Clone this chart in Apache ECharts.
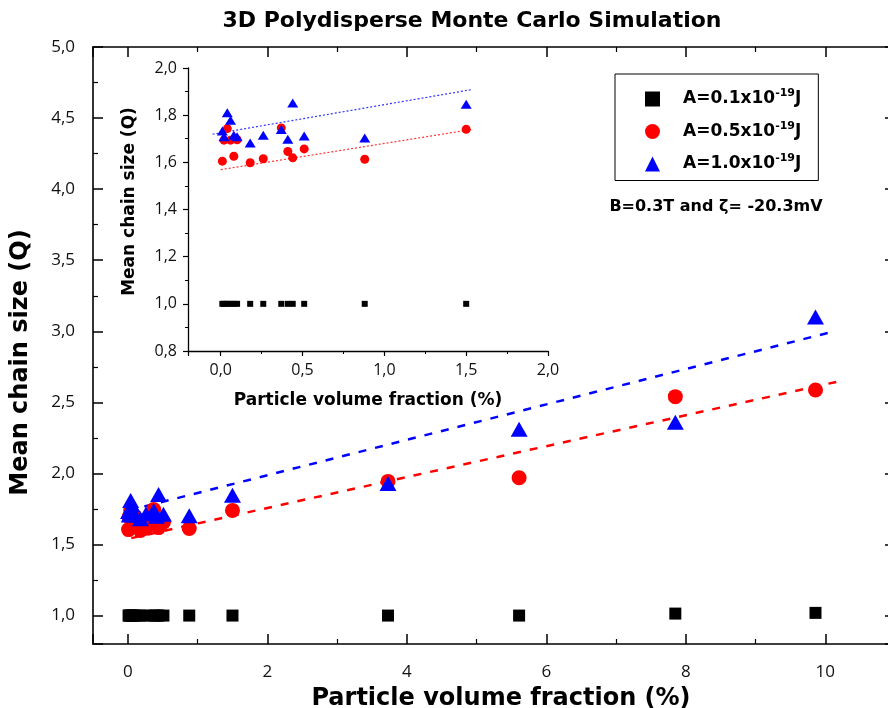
<!DOCTYPE html>
<html>
<head>
<meta charset="utf-8">
<script src="https://cdn.jsdelivr.net/npm/echarts@6/dist/echarts.min.js"></script>
<style>html,body{margin:0;padding:0;background:#fff}#c{width:888px;height:708px}</style>
</head>
<body>
<div id="c"></div>
<script>
// ---- data ----
const volFrac = [0.01, 0.02, 0.04, 0.06, 0.08, 0.10, 0.18, 0.26, 0.37, 0.41, 0.44, 0.51, 0.88, 1.50, 3.73, 5.61, 7.85, 9.86];
const qA01 = [1.0, 1.0, 1.0, 1.0, 1.0, 1.0, 1.0, 1.0, 1.0, 1.0, 1.0, 1.0, 1.0, 1.0, 1.0, 1.0, 1.014, 1.019];
const qA05 = [1.605, 1.694, 1.743, 1.694, 1.626, 1.696, 1.598, 1.615, 1.746, 1.646, 1.619, 1.657, 1.613, 1.74, 1.944, 1.97, 2.54, 2.587];
const qA10 = [1.733, 1.708, 1.81, 1.778, 1.715, 1.708, 1.682, 1.715, 1.739, 1.698, 1.852, 1.712, 1.703, 1.846, 1.93, 2.31, 2.36, 3.10];
const seriesNames = ['A=0.1x10^-19J', 'A=0.5x10^-19J', 'A=1.0x10^-19J'];
// linear fits (end points)
const fitMainA05 = [[0.05, 1.545], [10.26, 2.655]];
const fitMainA10 = [[0.0, 1.738], [10.13, 3.0]];
const fitInsetA05 = [[0.0, 1.569], [1.53, 1.739]];
const fitInsetA10 = [[-0.05, 1.719], [1.53, 1.908]];
const insetMaxX = 2.0;
// ---- build ----
const pairs = (ys, filt) => volFrac.map((x, i) => [x, ys[i]]).filter(p => !filt || p[0] <= insetMaxX);
const FONT = 'Open Sans';
const BFONT = 'DejaVu Sans';
const comma1 = v => v.toFixed(1).replace('.', ',');

const chart = echarts.init(document.getElementById('c'), null, {renderer: 'canvas'});
const axisLineStyle = {color: '#000', width: 1.6};
const lblMain = {color: '#111', fontFamily: FONT, fontSize: 17};
const lblInset = {color: '#111', fontFamily: FONT, fontSize: 16};
const nameMain = {fontFamily: BFONT, fontWeight: 'bold', fontSize: 24, color: '#000'};
const nameInset = {fontFamily: BFONT, fontWeight: 'bold', fontSize: 17, color: '#000'};
const tickMain = {inside: true, length: 10, lineStyle: {color: '#000', width: 1.5}};
const minorMain = {show: true, splitNumber: 2, length: 5, lineStyle: {color: '#000', width: 1.2}};
const tickInset = {inside: false, length: 5, lineStyle: {color: '#000', width: 1.2}};
const minorInset = {show: true, splitNumber: 2, length: 3, lineStyle: {color: '#000', width: 1}};

chart.setOption({
  animation: false,
  backgroundColor: '#fff',
  graphic: [
    {type: 'text', x: 472, y: 21, style: {text: '3D Polydisperse Monte Carlo Simulation', font: 'bold 22px "DejaVu Sans"', fill: '#000', textAlign: 'center', textVerticalAlign: 'middle'}},
    {type: 'text', x: 716, y: 207, style: {text: 'B=0.3T and ζ= -20.3mV', font: 'bold 16px "DejaVu Sans"', fill: '#000', textAlign: 'center', textVerticalAlign: 'middle'}}
  ],
  legend: {
    orient: 'vertical', left: 615, top: 74,
    padding: [14, 17, 8, 30], itemGap: 13,
    borderColor: '#000', borderWidth: 1,
    itemWidth: 15, itemHeight: 15,
    data: [
      {name: seriesNames[0], icon: 'rect'},
      {name: seriesNames[1], icon: 'circle'},
      {name: seriesNames[2], icon: 'triangle'}
    ],
    formatter: n => {
      const p = n.split('^-19');
      return '{b|' + p[0] + '}{s|-19}{b|' + p[1] + '}';
    },
    textStyle: {
      padding: [0, 0, 0, 18],
      rich: {
        b: {fontFamily: BFONT, fontWeight: 'bold', fontSize: 17, color: '#000', lineHeight: 22},
        s: {fontFamily: BFONT, fontWeight: 'bold', fontSize: 11, color: '#000', verticalAlign: 'top'}
      }
    }
  },
  grid: [
    {left: 93, top: 47, width: 802, height: 597, outerBoundsMode: 'none', containLabel: false},
    {left: 188, top: 68, width: 360, height: 283, outerBoundsMode: 'none', containLabel: false}
  ],
  xAxis: [
    {type: 'value', gridIndex: 0, min: -0.5, max: 11, position: 'bottom',
     axisLine: {onZero: false, lineStyle: axisLineStyle}, splitLine: {show: false},
     axisTick: tickMain, minorTick: minorMain,
     axisLabel: Object.assign({margin: 20, showMinLabel: false, showMaxLabel: false, formatter: v => String(v)}, lblMain),
     name: 'Particle volume fraction (%)', nameLocation: 'middle', nameGap: 43,
     nameTextStyle: Object.assign({padding: [0, 0, 0, 14]}, nameMain)},
    {type: 'value', gridIndex: 0, min: -0.5, max: 11, position: 'top',
     axisLine: {onZero: false, lineStyle: axisLineStyle}, splitLine: {show: false},
     axisTick: tickMain, minorTick: minorMain, axisLabel: {show: false}},
    {type: 'value', gridIndex: 1, min: -0.2, max: 2.0,
     axisLine: {onZero: false, lineStyle: {color: '#000', width: 1.3}}, splitLine: {show: false},
     axisTick: tickInset, minorTick: minorInset,
     axisLabel: Object.assign({margin: 11, showMinLabel: false, formatter: comma1}, lblInset),
     name: 'Particle volume fraction (%)', nameLocation: 'middle', nameGap: 41, nameTextStyle: nameInset}
  ],
  yAxis: [
    {type: 'value', gridIndex: 0, min: 0.8, max: 5.0, splitNumber: 8, position: 'left',
     axisLine: {onZero: false, lineStyle: axisLineStyle}, splitLine: {show: false},
     axisTick: tickMain, minorTick: minorMain,
     axisLabel: Object.assign({margin: 18, showMinLabel: false, formatter: comma1}, lblMain),
     name: 'Mean chain size (Q)', nameLocation: 'middle', nameGap: 60, nameRotate: 90,
     nameTextStyle: Object.assign({padding: [0, 34, 0, 0]}, nameMain)},
    {type: 'value', gridIndex: 0, min: 0.8, max: 5.0, splitNumber: 8, position: 'right',
     axisLine: {onZero: false, lineStyle: axisLineStyle}, splitLine: {show: false},
     axisTick: tickMain, minorTick: minorMain, axisLabel: {show: false}},
    {type: 'value', gridIndex: 1, min: 0.8, max: 2.0, interval: 0.2,
     axisLine: {onZero: false, lineStyle: {color: '#000', width: 1.3}}, splitLine: {show: false},
     axisTick: tickInset, minorTick: minorInset,
     axisLabel: Object.assign({margin: 11, formatter: comma1}, lblInset),
     name: 'Mean chain size (Q)', nameLocation: 'middle', nameGap: 50, nameRotate: 90,
     nameTextStyle: Object.assign({padding: [0, 0, 0, 16]}, nameInset)}
  ],
  series: [
    {type: 'line', name: 'fitMain05', xAxisIndex: 0, yAxisIndex: 0, data: fitMainA05, symbol: 'none', z: 1, silent: true,
     lineStyle: {color: '#ff0000', width: 2.5, type: [8, 9]}},
    {type: 'line', name: 'fitMain10', xAxisIndex: 0, yAxisIndex: 0, data: fitMainA10, symbol: 'none', z: 1, silent: true,
     lineStyle: {color: '#0000ff', width: 2.5, type: [8, 9]}},
    {type: 'scatter', name: seriesNames[0], xAxisIndex: 0, yAxisIndex: 0, data: pairs(qA01), symbol: 'rect', symbolSize: 12, itemStyle: {color: '#000', opacity: 1}, z: 2},
    {type: 'scatter', name: seriesNames[1], xAxisIndex: 0, yAxisIndex: 0, data: pairs(qA05), symbol: 'circle', symbolSize: 15, itemStyle: {color: '#ff0000', opacity: 1}, z: 3},
    {type: 'scatter', name: seriesNames[2], xAxisIndex: 0, yAxisIndex: 0, data: pairs(qA10), symbol: 'triangle', symbolSize: [17, 15], itemStyle: {color: '#0000ff', opacity: 1}, z: 4},
    {type: 'line', name: 'fitInset05', xAxisIndex: 2, yAxisIndex: 2, data: fitInsetA05, symbol: 'none', z: 5, silent: true,
     lineStyle: {color: '#ff3333', width: 1.2, type: [2, 2]}},
    {type: 'line', name: 'fitInset10', xAxisIndex: 2, yAxisIndex: 2, data: fitInsetA10, symbol: 'none', z: 5, silent: true,
     lineStyle: {color: '#3333ff', width: 1.2, type: [2, 2]}},
    {type: 'scatter', name: seriesNames[0], xAxisIndex: 2, yAxisIndex: 2, data: pairs(qA01, true), symbol: 'rect', symbolSize: 6, itemStyle: {color: '#000', opacity: 1}, z: 6},
    {type: 'scatter', name: seriesNames[1], xAxisIndex: 2, yAxisIndex: 2, data: pairs(qA05, true), symbol: 'circle', symbolSize: 9, itemStyle: {color: '#ff0000', opacity: 1}, z: 7},
    {type: 'scatter', name: seriesNames[2], xAxisIndex: 2, yAxisIndex: 2, data: pairs(qA10, true), symbol: 'triangle', symbolSize: [11, 9], itemStyle: {color: '#0000ff', opacity: 1}, z: 8}
  ]
});
</script>
</body>
</html>
